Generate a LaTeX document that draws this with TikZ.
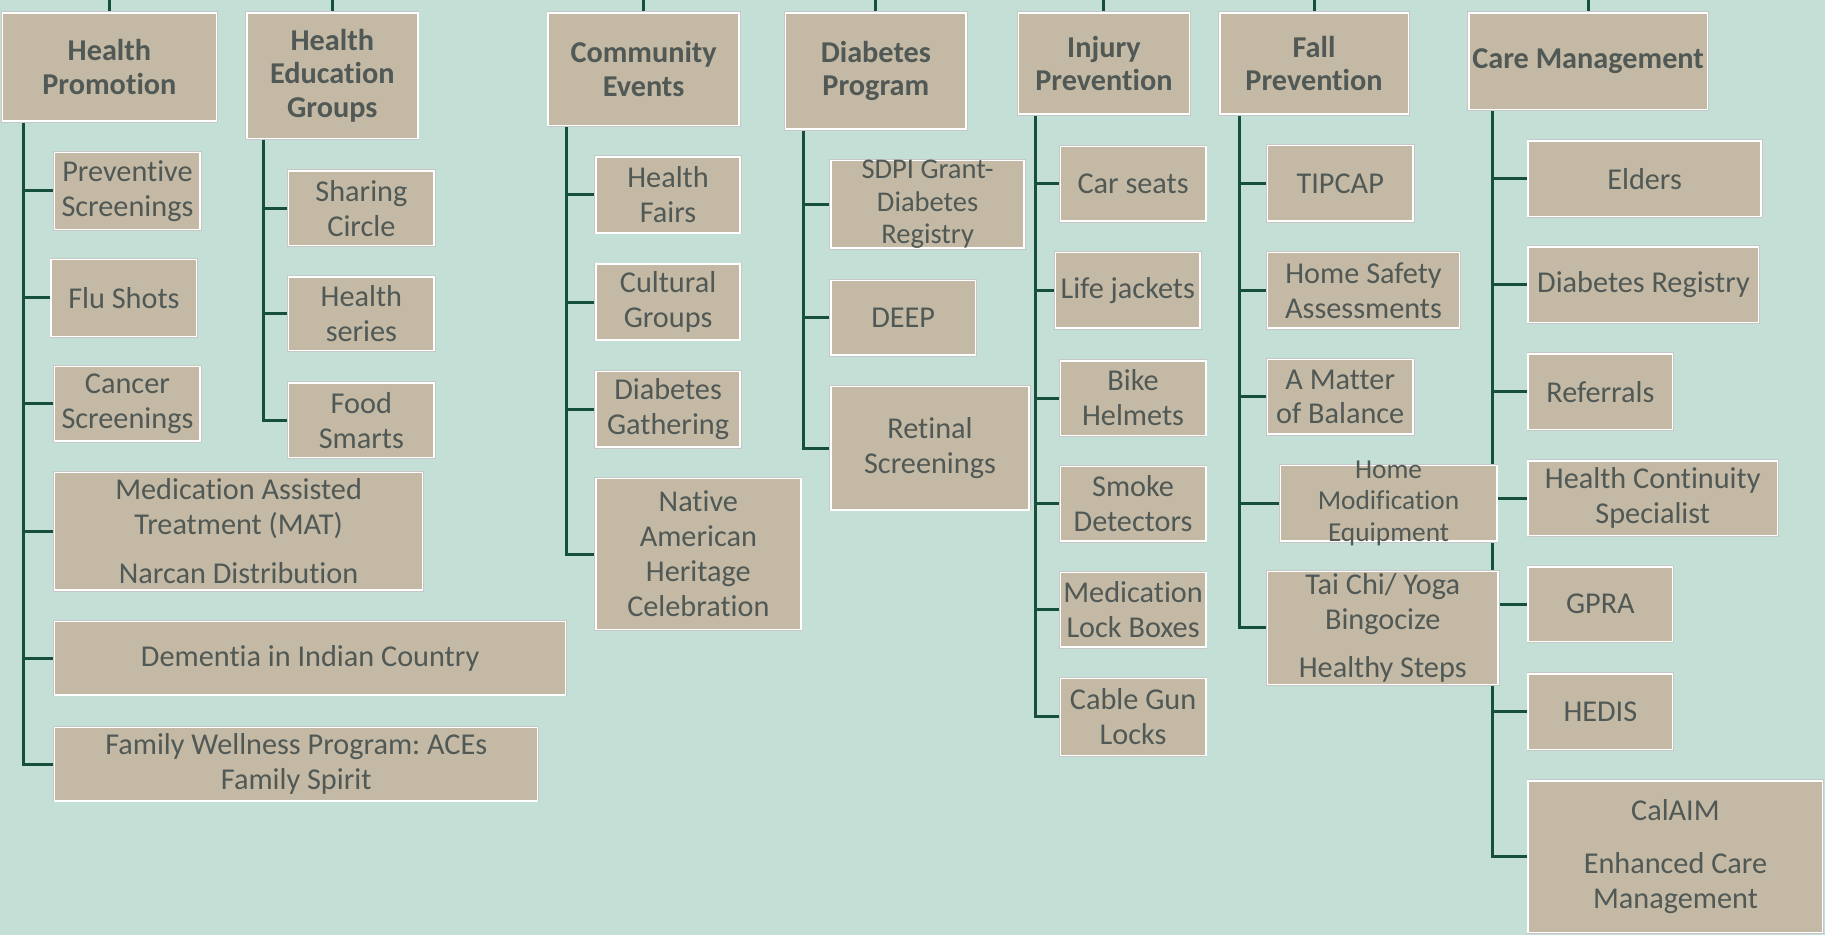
\documentclass[tikz,border=0pt]{standalone}
\usepackage{fontspec}
\setmainfont{Carlito}[Ligatures=NoCommon]
\frenchspacing
\pgfdeclarelayer{bg}
\pgfsetlayers{bg,main}
\definecolor{bgc}{RGB}{196,223,214}
\definecolor{boxc}{RGB}{196,185,164}
\definecolor{txt}{RGB}{80,89,85}
\definecolor{linec}{RGB}{22,80,60}
\newcommand\mybox[7]{\node[#6, minimum width={(#4-#2)*1pt}, minimum height={(#5-#3)*1pt}] (#1) at ({(#2+#4)/2},{(#3+#5)/2}) {#7};}
\tikzset{
  base/.style={draw=white, line width=1.3pt, fill=boxc, inner sep=0pt, align=center, text=txt,
    preaction={draw=black!22, line width=2.8pt}},
  hdr/.style={base, font=\fontsize{26}{29}\selectfont\bfseries},
  cbox/.style={base, font=\fontsize{26}{30}\selectfont},
  lbl/.style={inner sep=0pt, align=center, text=txt},
  conn/.style={draw=linec, line width=2.6pt}
}
\begin{document}
\begin{tikzpicture}[x=1pt,y=-1pt]
\useasboundingbox (0,0) rectangle (1568,803);
% headers
\mybox{hp}{2}{11}{186}{104}{hdr}{Health\\Promotion}
\mybox{heg}{212}{11}{359}{119}{hdr}{Health\\Education\\Groups}
\mybox{ce}{471}{11}{635}{108}{hdr}{Community\\Events}
\mybox{dp}{675}{11}{830}{111}{hdr}{Diabetes\\Program}
\mybox{ip}{875}{11}{1022}{98}{hdr}{Injury\\Prevention}
\mybox{fp}{1048}{11}{1210}{98}{hdr}{Fall\\Prevention}
\mybox{cm}{1262}{11}{1467}{94}{hdr}{Care Management}
% column 1
\mybox{ps}{47}{131}{172}{197}{cbox}{Preventive\\Screenings}
\mybox{flu}{44}{223}{169}{289}{cbox}{Flu Shots}
\mybox{cs}{47}{315}{172}{379}{cbox}{Cancer\\Screenings}
\mybox{mat}{47}{406}{363}{507}{cbox}{Medication Assisted\\Treatment (MAT)\\[12pt]Narcan Distribution}
\mybox{dem}{47}{534}{486}{597}{cbox}{Dementia in Indian Country}
\mybox{fam}{47}{625}{462}{688}{cbox}{Family Wellness Program: ACEs\\Family Spirit}
% column 2
\mybox{sc}{248}{147}{373}{211}{cbox}{Sharing\\Circle}
\mybox{hs}{248}{238}{373}{301}{cbox}{Health\\series}
\mybox{fs}{248}{329}{373}{393}{cbox}{Food\\Smarts}
% column 3
\mybox{hf}{512}{135}{636}{200}{cbox}{Health\\Fairs}
\mybox{cg}{512}{227}{636}{292}{cbox}{Cultural\\Groups}
\mybox{dg}{512}{319}{636}{384}{cbox}{Diabetes\\Gathering}
\mybox{nah}{512}{411}{688}{541}{cbox}{Native\\American\\Heritage\\Celebration}
% column 4
\mybox{sdpi}{714}{138}{880}{213}{cbox, label={[lbl,font=\fontsize{24.5}{28}\selectfont]center:{SDPI Grant-\\Diabetes\\Registry}}}{}
\mybox{deep}{714}{241}{838}{305}{cbox}{DEEP}
\mybox{ret}{714}{332}{884}{438}{cbox}{Retinal\\Screenings}
% column 5
\mybox{car}{911}{126}{1036}{190}{cbox}{Car seats}
\mybox{life}{907}{217}{1031}{282}{cbox}{Life jackets}
\mybox{bike}{911}{310}{1036}{374}{cbox}{Bike\\Helmets}
\mybox{smoke}{911}{401}{1036}{465}{cbox}{Smoke\\Detectors}
\mybox{mlb}{911}{492}{1036}{556}{cbox}{Medication\\Lock Boxes}
\mybox{cgl}{911}{583}{1036}{649}{cbox}{Cable Gun\\Locks}
% column 6
\mybox{tip}{1089}{125}{1214}{190}{cbox}{TIPCAP}
\mybox{hsa}{1089}{217}{1254}{282}{cbox}{Home Safety\\Assessments}
\mybox{mob}{1089}{309}{1214}{373}{cbox}{A Matter\\of Balance}
\mybox{hme}{1100}{400}{1286}{465}{cbox, label={[lbl,font=\fontsize{23.5}{27}\selectfont]center:{Home\\Modification\\Equipment}}}{}
\mybox{tai}{1089}{491}{1287}{588}{cbox}{Tai Chi/ Yoga\\Bingocize\\[12pt]Healthy Steps}
% column 7
\mybox{eld}{1313}{121}{1513}{186}{cbox}{Elders}
\mybox{dr}{1313}{212}{1511}{277}{cbox}{Diabetes Registry}
\mybox{ref}{1313}{304}{1437}{369}{cbox}{Referrals}
\mybox{hcs}{1313}{396}{1527}{460}{cbox}{Health Continuity\\Specialist}
\mybox{gpra}{1313}{487}{1437}{551}{cbox}{GPRA}
\mybox{hedis}{1313}{579}{1437}{644}{cbox}{HEDIS}
\mybox{cal}{1313}{671}{1566}{801}{cbox}{CalAIM\\[16pt]Enhanced Care\\Management}
\begin{pgfonlayer}{bg}
\fill[bgc] (0,0) rectangle (1568,803);
\coordinate (top) at (0,0);
\foreach \h in {hp,heg,ce,dp,ip,fp,cm} \draw[conn] (\h.north) -- (\h.north |- top);
\coordinate (x1) at (20,0);   \coordinate (v1) at (hp.south -| x1);
\coordinate (x2) at (226,0);  \coordinate (v2) at (heg.south -| x2);
\coordinate (x3) at (487,0);  \coordinate (v3) at (ce.south -| x3);
\coordinate (x4) at (690,0);  \coordinate (v4) at (dp.south -| x4);
\coordinate (x5) at (890,0);  \coordinate (v5) at (ip.south -| x5);
\coordinate (x6) at (1065,0); \coordinate (v6) at (fp.south -| x6);
\coordinate (x7) at (1282,0); \coordinate (v7) at (cm.south -| x7);
\foreach \c in {ps,flu,cs,mat,dem,fam} \draw[conn] (v1) |- (\c.west);
\foreach \c in {sc,hs,fs} \draw[conn] (v2) |- (\c.west);
\foreach \c in {hf,cg,dg,nah} \draw[conn] (v3) |- (\c.west);
\foreach \c in {sdpi,deep,ret} \draw[conn] (v4) |- (\c.west);
\foreach \c in {car,life,bike,smoke,mlb,cgl} \draw[conn] (v5) |- (\c.west);
\foreach \c in {tip,hsa,mob,hme,tai} \draw[conn] (v6) |- (\c.west);
\foreach \c in {eld,dr,ref,hcs,gpra,hedis,cal} \draw[conn] (v7) |- (\c.west);
\end{pgfonlayer}
\end{tikzpicture}
\end{document}
